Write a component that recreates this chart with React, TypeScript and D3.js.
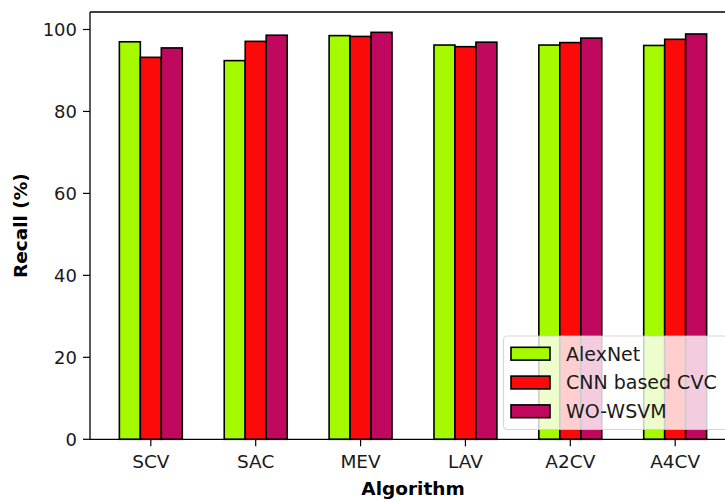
import React from "react";
import * as d3 from "d3";

const categories = ["SCV", "SAC", "MEV", "LAV", "A2CV", "A4CV"];
const seriesNames = ["AlexNet", "CNN based CVC", "WO-WSVM"];
const alexNet = [97.0, 92.4, 98.5, 96.2, 96.2, 96.1];
const cnnCvc = [93.2, 97.1, 98.3, 95.8, 96.8, 97.6];
const woWsvm = [95.5, 98.6, 99.3, 96.9, 97.9, 98.9];
const yTicks = [0, 20, 40, 60, 80, 100];
const colors = ["#a5fa00", "#fc0a0a", "#c0085f"];

const W = 725;
const H = 502;
const M = { left: 90, right: 736, top: 12, bottom: 439.3 };
const FONT = "DejaVu Sans, sans-serif";

export default function App() {
  const series = [alexNet, cnnCvc, woWsvm];
  const x = d3.scaleLinear().domain([-0.58, 5.58]).range([M.left, M.right]);
  const yMax = 99.3 * 1.05;
  const y = d3.scaleLinear().domain([0, yMax]).range([M.bottom, M.top]);
  const bw = 0.2;

  return (
    <svg
      width={W}
      height={H}
      style={{ position: "absolute", left: 0, top: 0, background: "#fff" }}
      fontFamily={FONT}
    >
      <rect x={0} y={0} width={W} height={H} fill="#fff" />
      {series.map((vals, si) =>
        vals.map((v, ci) => {
          const cx = ci + (si - 1) * bw;
          const x0 = x(cx - bw / 2);
          const x1 = x(cx + bw / 2);
          return (
            <rect
              key={`${si}-${ci}`}
              x={x0}
              y={y(v)}
              width={x1 - x0}
              height={y(0) - y(v)}
              fill={colors[si]}
              stroke="#000"
              strokeWidth={1.6}
            />
          );
        })
      )}
      {/* spines */}
      <line x1={M.left} x2={M.left} y1={M.top} y2={M.bottom} stroke="#000" strokeWidth={1.3} />
      <line x1={M.left} x2={M.right} y1={M.bottom} y2={M.bottom} stroke="#000" strokeWidth={1.3} />
      <line x1={M.left} x2={M.right} y1={M.top} y2={M.top} stroke="#000" strokeWidth={1.3} />
      <line x1={M.right} x2={M.right} y1={M.top} y2={M.bottom} stroke="#000" strokeWidth={1.3} />
      {/* y ticks */}
      {yTicks.map((t) => (
        <g key={t}>
          <line x1={M.left - 7} x2={M.left} y1={y(t)} y2={y(t)} stroke="#000" strokeWidth={1.2} />
          <text
            x={M.left - 13}
            y={y(t)}
            dy="0.36em"
            textAnchor="end"
            fontSize={18}
            fill="#1a1a1a"
          >
            {t}
          </text>
        </g>
      ))}
      {/* x ticks */}
      {categories.map((c, i) => (
        <g key={c}>
          <line x1={x(i)} x2={x(i)} y1={M.bottom} y2={M.bottom + 7} stroke="#000" strokeWidth={1.2} />
          <text x={x(i)} y={468} textAnchor="middle" fontSize={18.5} fill="#1a1a1a">
            {c}
          </text>
        </g>
      ))}
      {/* axis labels */}
      <text x={(M.left + M.right) / 2} y={495} textAnchor="middle" fontSize={18.5} fontWeight="bold" fill="#000">
        Algorithm
      </text>
      <text
        transform={`translate(27,${(M.top + M.bottom) / 2}) rotate(-90)`}
        textAnchor="middle"
        fontSize={18.5}
        fontWeight="bold"
        fill="#000"
      >
        Recall (%)
      </text>
      {/* legend */}
      <g>
        <rect
          x={503.5}
          y={336}
          width={224}
          height={93.5}
          rx={4}
          fill="#fff"
          fillOpacity={0.8}
          stroke="#cccccc"
          strokeOpacity={0.8}
          strokeWidth={1.2}
        />
        {seriesNames.map((n, i) => {
          const cy = 353.7 + i * 28.8;
          return (
            <g key={n}>
              <rect x={511} y={cy - 6.4} width={39} height={12.8} fill={colors[i]} stroke="#000" strokeWidth={1.6} />
              <text x={566} y={cy} dy="0.36em" fontSize={19} fill="#1a1a1a">
                {n}
              </text>
            </g>
          );
        })}
      </g>
    </svg>
  );
}
